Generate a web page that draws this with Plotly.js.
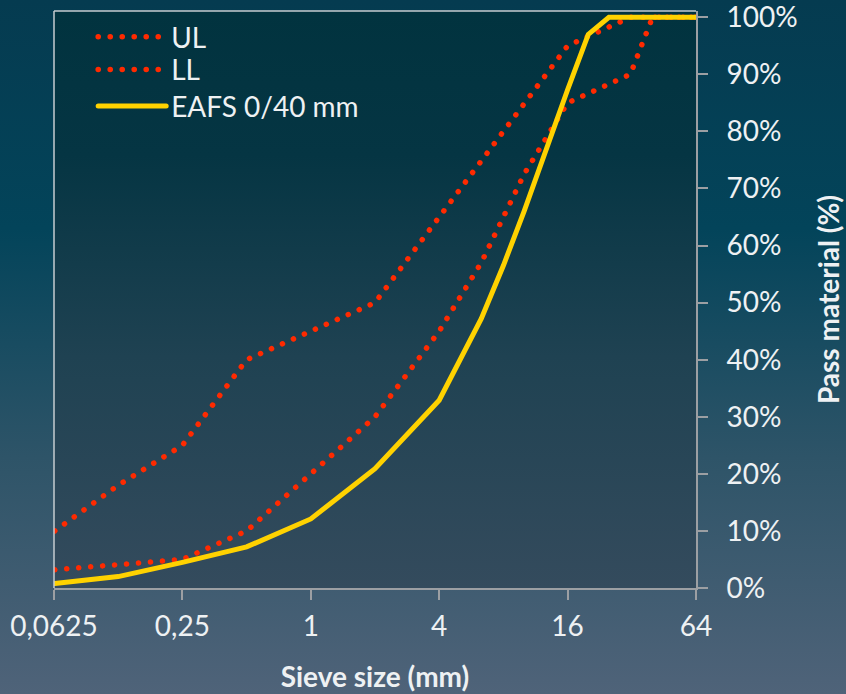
<!DOCTYPE html>
<html>
<head>
<meta charset="utf-8">
<script src="https://cdn.plot.ly/plotly-3.0.1.min.js"></script>
<style>
  html, body { margin: 0; padding: 0; }
  #wrap {
    position: relative; width: 846px; height: 694px; overflow: hidden;
    background: linear-gradient(to bottom, #053b50 0%, #03445a 33%, #2e5468 66%, #4f6379 100%);
  }
  #plotbg {
    position: absolute; left: 54px; top: 11px; width: 642px; height: 577px;
    background: linear-gradient(to bottom, #01333f 0%, #053543 25%, #1f4252 60%, #344b5d 100%);
  }
  #chart { position: absolute; left: 0; top: 0; width: 846px; height: 694px; }
  path.js-line, .legendlines path { stroke-linecap: round; }
</style>
</head>
<body>
<div id="wrap">
  <div id="plotbg"></div>
  <div id="chart"></div>
</div>
<script>
// Sieve sizes (mm) and percent passing
const ulSieve = [0.063, 0.125, 0.25, 0.5, 1, 2, 4, 8, 12.5, 16, 31.5, 64];
const ulPass  = [10, 18, 25, 40, 45, 50, 65, 80, 90, 95, 100, 100];

const llSieve = [0.063, 0.125, 0.25, 0.5, 1, 2, 4, 6.3, 10, 16, 31.5, 40, 64];
const llPass  = [3.2, 4, 5, 10, 20, 30, 45, 57, 72.5, 85, 90, 100, 100];

const eafsSieve = [0.063, 0.125, 0.25, 0.5, 1, 2, 4, 6.3, 8, 10, 16, 20, 25, 31.5, 40, 64];
const eafsPass  = [0.8, 2, 4.5, 7.2, 12.1, 20.9, 32.9, 47.2, 56.5, 66, 87.3, 97, 100, 100, 100, 100];

const xTickVals = [0.0625, 0.25, 1, 4, 16, 64];
const xTickText = ['0,0625', '0,25', '1', '4', '16', '64'];
const yTickVals = [0, 10, 20, 30, 40, 50, 60, 70, 80, 90, 100];
const yTickText = ['0%', '10%', '20%', '30%', '40%', '50%', '60%', '70%', '80%', '90%', '100%'];

const seriesNames = ['UL', 'LL', 'EAFS 0/40 mm'];

const FONT = 'Lato, "Open Sans", sans-serif';
const TXT = '#eef1f3';
const AX = '#9c9fa3';
const RED = '#ff2a00';
const YEL = '#ffd200';

const dotLine = { color: RED, width: 5.5, dash: '0.1px,11.9px' };

const traces = [
  { x: ulSieve, y: ulPass, name: seriesNames[0], type: 'scatter', mode: 'lines', line: dotLine, legend: 'legend' },
  { x: llSieve, y: llPass, name: seriesNames[1], type: 'scatter', mode: 'lines', line: dotLine, legend: 'legend2' },
  { x: eafsSieve, y: eafsPass, name: seriesNames[2], type: 'scatter', mode: 'lines',
    line: { color: YEL, width: 5 }, legend: 'legend3' }
];

function leg(yc) {
  return {
    x: 0.061, y: yc, xanchor: 'left', yanchor: 'middle',
    bgcolor: 'rgba(0,0,0,0)', borderwidth: 0,
    font: { family: FONT, size: 28, color: TXT },
    itemwidth: 68
  };
}

const layout = {
  width: 846, height: 694,
  margin: { l: 54, r: 150, t: 11, b: 106 },
  paper_bgcolor: 'rgba(0,0,0,0)',
  plot_bgcolor: 'rgba(0,0,0,0)',
  font: { family: FONT, color: TXT, size: 28 },
  showlegend: true,
  legend: leg(0.955),
  legend2: leg(0.898),
  legend3: leg(0.835),
  xaxis: {
    type: 'log',
    range: [Math.log10(0.0625), Math.log10(64)],
    tickmode: 'array', tickvals: xTickVals, ticktext: xTickText,
    ticks: 'outside', ticklen: 10, tickwidth: 2, tickcolor: AX,
    ticklabelstandoff: 2, ticklabeloverflow: 'allow',
    showline: true, linecolor: AX, linewidth: 2,
    showgrid: false, zeroline: false,
    tickfont: { family: FONT, size: 28, color: TXT },
    title: { text: 'Sieve size (mm)', font: { family: FONT, size: 28, color: TXT, weight: 700 }, standoff: 27 }
  },
  yaxis: {
    side: 'right',
    range: [0, 101.1],
    tickmode: 'array', tickvals: yTickVals, ticktext: yTickText,
    ticks: 'outside', ticklen: 10, tickwidth: 2, tickcolor: AX,
    ticklabelstandoff: 13, ticklabeloverflow: 'allow',
    showline: true, linecolor: AX, linewidth: 2,
    showgrid: false, zeroline: false,
    tickfont: { family: FONT, size: 28, color: TXT },
    title: { text: 'Pass material (%)', font: { family: FONT, size: 28, color: TXT, weight: 700 }, standoff: 23 }
  },
  shapes: [
    { type: 'line', xref: 'x domain', yref: 'y domain', x0: 0, x1: 1, y0: 1, y1: 1,
      line: { color: '#c6ccd0', width: 1.5 } },
    { type: 'line', xref: 'x domain', yref: 'y domain', x0: 0, x1: 0, y0: 0, y1: 1,
      line: { color: '#c6ccd0', width: 1.5 } }
  ]
};

Plotly.newPlot('chart', traces, layout, { displayModeBar: false, staticPlot: true });
</script>
</body>
</html>
